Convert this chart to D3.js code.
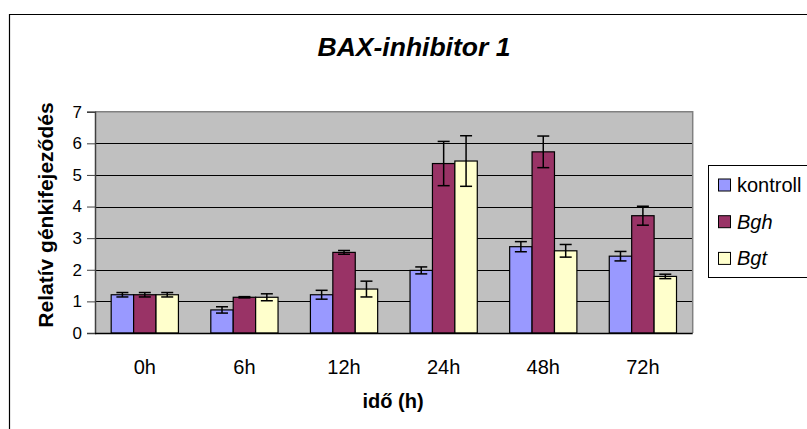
<!DOCTYPE html>
<html><head><meta charset="utf-8">
<script src="https://cdn.jsdelivr.net/npm/d3@7"></script>
<style>body{margin:0;background:#fff}svg{display:block;font-family:"Liberation Sans",Arial,sans-serif}</style>
</head><body><svg id="c" width="807" height="429"></svg>
<script>
const categories = ["0h","6h","12h","24h","48h","72h"];
const seriesNames = ["kontroll","Bgh","Bgt"];
const kontroll = [1.21,0.73,1.21,1.98,2.73,2.43];
const bgh      = [1.21,1.13,2.55,5.36,5.73,3.71];
const bgt      = [1.21,1.13,1.39,5.44,2.60,1.79];
const errKontroll = [0.07,0.10,0.14,0.11,0.16,0.15];
const errBgh      = [0.07,0.02,0.06,0.70,0.50,0.30];
const errBgt      = [0.07,0.11,0.25,0.80,0.20,0.07];
const yTicks = [0,1,2,3,4,5,6,7];
const colors = ["#9999FF","#993366","#FFFFCC"];
const italicLegend = [false,true,true];

const values = [kontroll,bgh,bgt];
const errs = [errKontroll,errBgh,errBgt];

const svg = d3.select("#c");
const L=95,R=692.7,T=111.7,B=333;
const x = d3.scaleBand().domain(categories).range([L,R]).paddingInner(0.325).paddingOuter(0.1625);
const xs = d3.scaleBand().domain(seriesNames).range([0,x.bandwidth()]);
const y = d3.scaleLinear().domain([0,7]).range([B,T]);

// outer border
svg.append("path").attr("d",`M9.5,${429+2}V14.5H${809}`).attr("fill","none").attr("stroke","#000").attr("stroke-width",1.2);

// title
svg.append("text").attr("x",414).attr("y",55.5).attr("text-anchor","middle")
  .attr("font-size",26.5).attr("font-weight","bold").attr("font-style","italic").text("BAX-inhibitor 1");

// plot bg
svg.append("rect").attr("x",L).attr("y",T).attr("width",R-L).attr("height",B-T).attr("fill","#C0C0C0");
// gridlines
svg.append("g").selectAll("line").data(yTicks.filter(d=>d>0&&d<7)).join("line")
  .attr("x1",L).attr("x2",R).attr("y1",d=>Math.round(y(d))+0.5).attr("y2",d=>Math.round(y(d))+0.5)
  .attr("stroke","#000").attr("stroke-width",1);
// plot border top/right
svg.append("path").attr("d",`M${L},${T}H${R}V${B}`).attr("fill","none").attr("stroke","#808080").attr("stroke-width",1.5);

// bars
const g = svg.append("g");
seriesNames.forEach((s,si)=>{
  g.append("g").selectAll("rect").data(categories).join("rect")
    .attr("x",(c)=>x(c)+xs(s)).attr("width",xs.bandwidth())
    .attr("y",(c,i)=>y(values[si][i])).attr("height",(c,i)=>B-y(values[si][i]))
    .attr("fill",colors[si]).attr("stroke","#000").attr("stroke-width",1.2);
});
// error bars
seriesNames.forEach((s,si)=>{
  const eg = g.append("g").attr("stroke","#000").attr("stroke-width",1.5);
  categories.forEach((c,i)=>{
    const cx = x(c)+xs(s)+xs.bandwidth()/2;
    const v = values[si][i], e = errs[si][i];
    eg.append("line").attr("x1",cx).attr("x2",cx).attr("y1",y(v+e)).attr("y2",y(v-e));
    eg.append("line").attr("x1",cx-6).attr("x2",cx+6).attr("y1",y(v+e)).attr("y2",y(v+e));
    eg.append("line").attr("x1",cx-6).attr("x2",cx+6).attr("y1",y(v-e)).attr("y2",y(v-e));
  });
});

// y axis
const ya = svg.append("g").attr("transform",`translate(${L},0)`)
  .call(d3.axisLeft(y).tickValues(yTicks).tickSize(8).tickPadding(5).tickFormat(d3.format("d")));
ya.select(".domain").attr("stroke","#404040").attr("stroke-width",1.5);
ya.selectAll(".tick line").attr("stroke","#404040");
ya.selectAll("text").attr("font-size",17).attr("font-family","Liberation Sans, Arial, sans-serif").attr("fill","#000");

// x axis
const xa = svg.append("g").attr("transform",`translate(0,${B})`)
  .call(d3.axisBottom(x).tickSize(0).tickPadding(27));
xa.select(".domain").attr("stroke","#000").attr("stroke-width",1.5).attr("d",`M${L},0.5H${R}`);
xa.selectAll("text").attr("font-size",20).attr("font-family","Liberation Sans, Arial, sans-serif").attr("fill","#000");

// axis titles
svg.append("text").attr("x",393).attr("y",408).attr("text-anchor","middle")
  .attr("font-size",20).attr("font-weight","bold").text("idő (h)");
svg.append("text").attr("transform",`translate(53,215) rotate(-90)`).attr("text-anchor","middle")
  .attr("font-size",21).attr("font-weight","bold").text("Relatív génkifejeződés");

// legend
svg.append("rect").attr("x",708.5).attr("y",165.5).attr("width",120).attr("height",112)
  .attr("fill","#fff").attr("stroke","#000").attr("stroke-width",1);
const lg = svg.append("g");
seriesNames.forEach((s,i)=>{
  const cy = 185 + i*36.7;
  lg.append("rect").attr("x",718.5).attr("y",cy-6).attr("width",12).attr("height",12)
    .attr("fill",colors[i]).attr("stroke","#000").attr("stroke-width",1);
  lg.append("text").attr("x",737).attr("y",cy+7).attr("font-size",20)
    .attr("font-style",italicLegend[i]?"italic":"normal").text(s);
});
</script></body></html>
